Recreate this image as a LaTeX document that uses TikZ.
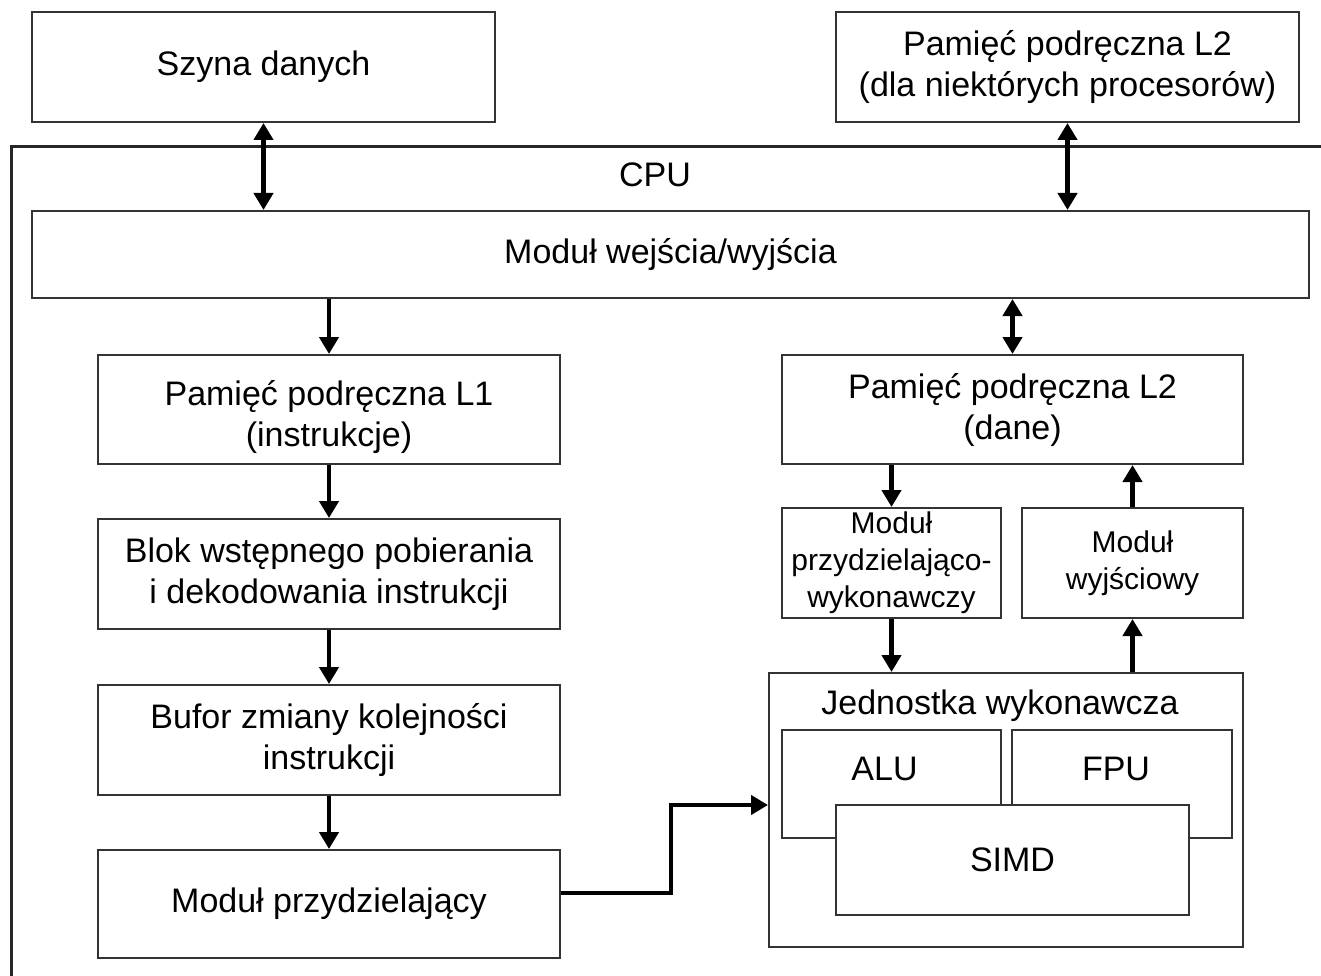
\documentclass[tikz,border=0pt]{standalone}
\usepackage{fontspec}
\setmainfont{Liberation Sans}
\usetikzlibrary{arrows.meta, positioning}
\newcommand{\bigfont}{\fontsize{34}{41}\selectfont}
\newcommand{\smallfont}{\fontsize{30}{37}\selectfont}

\begin{document}
\begin{tikzpicture}[
  x=1pt, y=-1pt,
  box/.style={draw=black!80, line width=2pt, fill=white, align=center, font=\bigfont, inner sep=0pt},
  smallbox/.style={box, font=\smallfont},
  frame/.style={draw=black!85, line width=3pt},
  arr/.style={-{Triangle[length=17pt, width=19pt]}, line width=4.5pt},
  darr/.style={{Triangle[length=17pt, width=19pt]}-{Triangle[length=17pt, width=19pt]}, line width=4.5pt}
]
\useasboundingbox (0,0) rectangle (1321,976);
\clip (0,0) rectangle (1321,976);
% CPU frame (runs past the right and bottom edges)
\node[frame, anchor=north west, minimum width=1400pt, minimum height=900pt] (cpu) at (10,145) {};
\node[font=\bigfont] (cpulbl) at (655,175) {CPU};

% outside the CPU
\node[box, minimum width=463pt, minimum height=110pt] (szyna) at (263.5,67) {Szyna danych};
\node[box, minimum width=463pt, minimum height=110pt] (l2ext) at (1067.5,67) {Pamięć podręczna L2\\(dla niektórych procesorów)};

% inside the CPU
\node[box, minimum width=1277pt, minimum height=87pt] (io) at (670.5,254.5) {Moduł wejścia/wyjścia};
\node[box, minimum width=462pt, minimum height=109pt, text height=81pt] (l1) at (329,409.5) {Pamięć podręczna L1\\(instrukcje)};
\node[box, minimum width=462pt, minimum height=110pt] (blok) at (329,574) {Blok wstępnego pobierania\\i dekodowania instrukcji};
\node[box, minimum width=462pt, minimum height=110pt] (bufor) at (329,740) {Bufor zmiany kolejności\\instrukcji};
\node[box, minimum width=462pt, minimum height=108pt] (przydz) at (329,904) {Moduł przydzielający};
\node[box, minimum width=461pt, minimum height=109pt] (l2) at (1012.5,409.5) {Pamięć podręczna L2\\(dane)};
\node[smallbox, minimum width=219pt, minimum height=110pt] (pw) at (891.5,563) {Moduł\\przydzielająco-\\wykonawczy};
\node[smallbox, minimum width=221pt, minimum height=110pt] (wyj) at (1132.5,563) {Moduł\\wyjściowy};

% execution unit
\node[box, minimum width=474pt, minimum height=274pt] (jw) at (1006,810) {};
\node[font=\bigfont, anchor=base] (jwlbl) at (1000,714) {Jednostka wykonawcza};
\node[box, minimum width=219pt, minimum height=108pt] (alu) at (891.5,784) {};
\node[font=\bigfont, anchor=base] (alulbl) at (884.5,780) {ALU};
\node[box, minimum width=220pt, minimum height=108pt] (fpu) at (1122,784) {};
\node[font=\bigfont, anchor=base] (fpulbl) at (1116,780) {FPU};
\node[box, minimum width=353pt, minimum height=110pt] (simd) at (1012.5,860) {SIMD};

% connections
\draw[darr] (szyna.south) -- (szyna.south |- io.north);
\draw[darr] (l2ext.south) -- (l2ext.south |- io.north);
\draw[arr] (l1.north |- io.south) -- (l1.north);
\draw[arr] (l1) -- (blok);
\draw[arr] (blok) -- (bufor);
\draw[arr] (bufor) -- (przydz);
\draw[darr] (l2.north |- io.south) -- (l2.north);
\draw[arr] (pw.north |- l2.south) -- (pw.north);
\draw[arr] (pw.south) -- (pw.south |- jw.north);
\draw[arr] (wyj.south |- jw.north) -- (wyj.south);
\draw[arr] (wyj.north) -- (wyj.north |- l2.south);
\draw[arr] ([yshift=11pt]przydz.east) -- ++(110,0) |- ([yshift=5pt]jw.west);
\end{tikzpicture}
\end{document}
